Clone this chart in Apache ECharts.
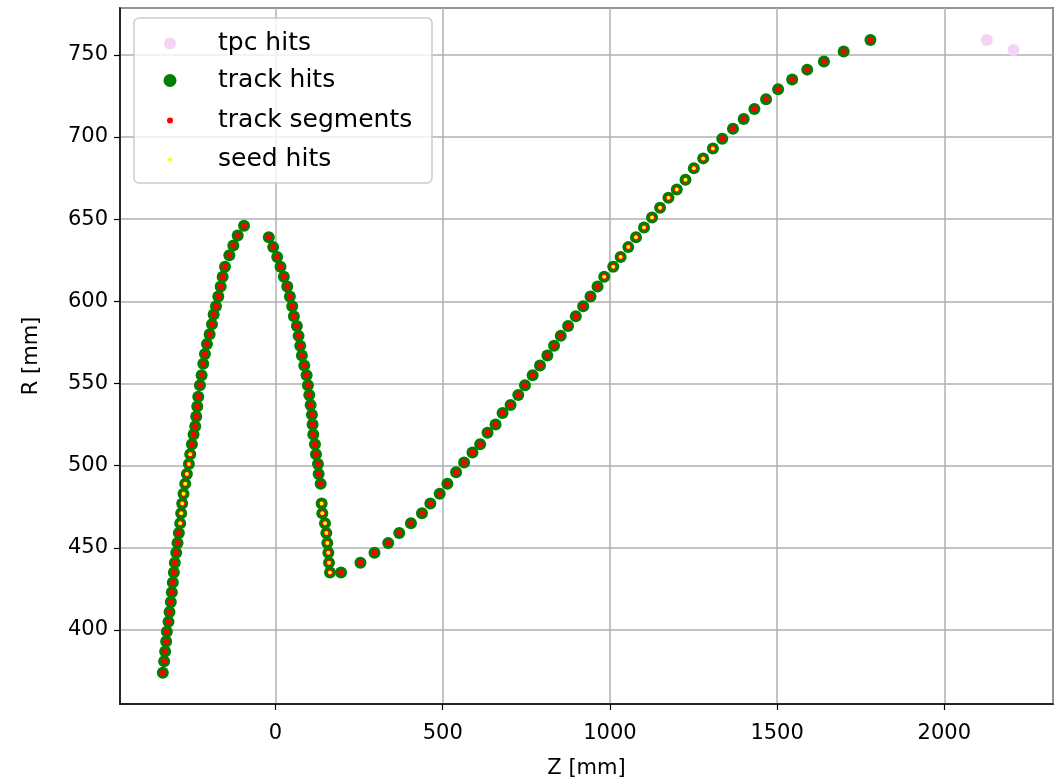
<!DOCTYPE html>
<html>
<head>
<meta charset="utf-8">
<script src="https://cdn.jsdelivr.net/npm/echarts@6/dist/echarts.min.js"></script>
<style>
  html, body { margin: 0; padding: 0; background: #fff; }
  #chart { width: 1054px; height: 783px; }
</style>
</head>
<body>
<div id="chart"></div>
<script>
// hits, [Z, R] in mm
const arcHits = [[-337,374],[-333,381],[-330,387],[-327,393],[-325,399],[-320,405],[-317,411],[-313,417],[-310,423],[-307,429],[-304,435],[-301,441],[-297,447],[-293,453],[-289,459],[-285,465],[-282,471],[-279,477],[-275,483],[-270,489],[-265,495],[-259,501],[-255,507],[-250,513],[-245,519],[-240,524],[-237,530],[-234,536],[-231,542],[-226,549],[-221,555],[-216,562],[-211,568],[-205,574],[-197,580],[-190,586],[-185,592],[-178,597],[-171,603],[-164,609],[-158,615],[-151,621],[-138,628],[-126,634],[-113,640],[-94,646]];
const dropHits = [[-20,639],[-7,633],[5,627],[15,621],[25,615],[35,609],[43,603],[50,597],[55,591],[64,585],[69,579],[74,573],[79,567],[86,561],[93,555],[97,549],[101,543],[105,537],[109,531],[111,525],[113,519],[118,513],[121,507],[127,501],[129,495],[135,489],[138,477],[140,471],[148,465],[152,459],[155,453],[158,447],[160,441],[163,435]];
const rampHits = [[196,435],[254,441],[296,447],[337,453],[370,459],[405,465],[438,471],[463,477],[491,483],[514,489],[540,496],[564,502],[589,508],[612,513],[634,520],[658,525],[679,532],[703,537],[726,543],[746,549],[769,555],[791,561],[813,567],[833,573],[853,579],[875,585],[898,591],[920,597],[942,603],[963,609],[983,615],[1010,621],[1032,627],[1055,633],[1078,639],[1102,645],[1126,651],[1150,657],[1175,663],[1200,668],[1226,674],[1251,681],[1279,687],[1308,693],[1336,699],[1368,705],[1400,711],[1432,717],[1467,723],[1503,729],[1545,735],[1590,741],[1640,746],[1699,752],[1779,759]];
const seedHits = [[-285,465],[-282,471],[-279,477],[-275,483],[-270,489],[-265,495],[-259,501],[-255,507],
  [138,477],[140,471],[148,465],[152,459],[155,453],[158,447],[160,441],[163,435],
  [983,615],[1010,621],[1032,627],[1055,633],[1078,639],[1102,645],[1126,651],[1150,657],[1175,663],[1200,668],[1226,674],[1251,681],[1279,687],[1308,693]];
const tpcHits = [[2127,759],[2207,753]];

const trackHits = arcHits.concat(dropHits, rampHits);

const font = 'DejaVu Sans';
const txt = { color: '#000', fontSize: 21, fontFamily: font };

// one legend per entry so each marker keeps its own size
const legendItem = (name, centerY, h) => ({
  data: [name],
  left: 170 - h / 2, top: centerY - 11, padding: 0, z: 101,
  icon: 'circle', itemWidth: h, itemHeight: h,
  textStyle: { color: '#000', fontSize: 25, fontFamily: font, padding: [0, 0, 0, 43 - h / 2] },
});

const chart = echarts.init(document.getElementById('chart'));
chart.setOption({
  animation: false,
  backgroundColor: '#fff',
  grid: { left: 120, right: 1, top: 8, bottom: 79, outerBoundsMode: 'none',
    show: true, borderColor: '#000', borderWidth: 1.5 },
  graphic: [{
    type: 'rect', z: 100,
    shape: { x: 134, y: 18, width: 298, height: 165, r: 5 },
    style: { fill: 'rgba(255,255,255,0.8)', stroke: '#cccccc', lineWidth: 1.5 },
  }],
  legend: [
    legendItem('tpc hits', 42, 12),
    legendItem('track hits', 79, 13),
    legendItem('track segments', 119, 6),
    legendItem('seed hits', 158, 4),
  ],
  xAxis: {
    type: 'value', min: -465, max: 2325, minInterval: 500, maxInterval: 500,
    name: 'Z [mm]', nameLocation: 'middle', nameGap: 54, nameTextStyle: txt,
    axisLine: { show: true, onZero: false, lineStyle: { color: '#000', width: 1.5 } },
    axisTick: { show: true, length: 6, lineStyle: { color: '#000', width: 1.2 } },
    axisLabel: Object.assign({ margin: 19, showMinLabel: false, showMaxLabel: false,
      formatter: v => String(v) }, txt),
    splitLine: { show: true, lineStyle: { color: '#b0b0b0', width: 1.5 } },
  },
  yAxis: {
    type: 'value', min: 355, max: 778.5, minInterval: 50, maxInterval: 50,
    name: 'R [mm]', nameLocation: 'middle', nameGap: 78, nameTextStyle: txt,
    axisLine: { show: true, onZero: false, lineStyle: { color: '#000', width: 1.5 } },
    axisTick: { show: true, length: 6, lineStyle: { color: '#000', width: 1.2 } },
    axisLabel: Object.assign({ margin: 12, showMinLabel: false, showMaxLabel: false,
      formatter: v => String(v) }, txt),
    splitLine: { show: true, lineStyle: { color: '#b0b0b0', width: 1.5 } },
  },
  series: [
    { name: 'tpc hits', type: 'scatter', data: tpcHits, symbolSize: 12,
      itemStyle: { color: '#f4d4f4', opacity: 1 } },
    { name: 'track hits', type: 'scatter', data: trackHits, symbolSize: 12,
      itemStyle: { color: '#008000', opacity: 1 } },
    { name: 'track segments', type: 'scatter', data: trackHits, symbolSize: 6,
      itemStyle: { color: '#ff0000', opacity: 1 } },
    { name: 'seed hits', type: 'scatter', data: seedHits, symbolSize: 4,
      itemStyle: { color: '#ffff00', opacity: 1 } },
  ],
});
</script>
</body>
</html>
